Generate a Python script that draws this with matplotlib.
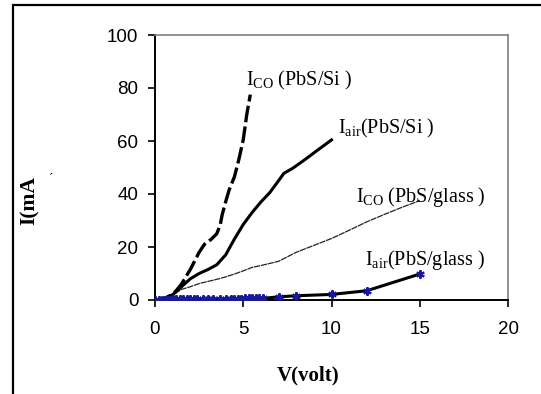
import matplotlib
matplotlib.use("Agg")
import matplotlib.pyplot as plt
from matplotlib.patches import Rectangle

plt.rcParams["mathtext.fontset"] = "custom"
plt.rcParams["mathtext.rm"] = "Liberation Serif"
plt.rcParams["mathtext.it"] = "Liberation Serif:italic"
plt.rcParams["mathtext.bf"] = "Liberation Serif:bold"

# I_CO (PbS/Si) -- dashed
v_co_si = [0, 0.3, 0.6, 0.9, 1.2, 1.5, 2.0, 2.5, 2.8, 3.2, 3.5, 3.7, 3.8, 4.0,
           4.2, 4.5, 4.75, 5.0, 5.2, 5.4]
i_co_si = [0, 0.3, 0.8, 1.8, 3.5, 6.0, 11.5, 18, 21, 23, 25, 28.5, 32, 37,
           41.5, 46.5, 53, 60.5, 70, 77.5]

# I_air (PbS/Si)
v_air_si = [0, 0.5, 1.0, 1.5, 2.0, 2.5, 3.0, 3.5, 4.0, 4.5, 5.0, 5.5, 6.0, 6.5,
            7.0, 7.3, 7.8, 8.5, 9.2, 10]
i_air_si = [0, 0.5, 2.0, 5.0, 8.0, 10.0, 11.5, 13.3, 17, 23, 28.5, 33, 37, 40.5,
            45, 47.8, 49.7, 53, 56.5, 60.4]

# I_CO (PbS/glass) -- thin
v_co_gl = [0, 0.5, 1.0, 1.5, 2.0, 2.5, 3.0, 3.5, 4.0, 4.5, 5.0, 5.5, 6.0, 6.5,
           7.0, 7.5, 8.0, 9.0, 10.0, 11.0, 12.0, 13.0, 14.0, 15.0]
i_co_gl = [0, 0.6, 1.8, 4.0, 5.0, 6.2, 7.0, 7.8, 8.7, 9.8, 11.0, 12.3, 13.0, 13.8,
           14.6, 16.3, 18.0, 20.6, 23.2, 26.3, 29.5, 32.3, 35.0, 37.5]

# I_air (PbS/glass) -- with star markers
v_air_gl = [0, 0.2, 0.4, 0.6, 0.8, 1.0, 1.2, 1.4, 1.6, 1.8, 2.0, 2.2, 2.4, 2.7,
            3.0, 3.3, 3.7, 4.0, 4.3, 4.5, 4.7, 4.9, 5.1, 5.3, 5.5, 5.7, 5.9, 6.1,
            7.0, 8.0, 10.0, 12.0, 15.0]
i_air_gl = [0, 0.1, 0.1, 0.1, 0.1, 0.2, 0.2, 0.2, 0.2, 0.2, 0.2, 0.2, 0.2, 0.2,
            0.2, 0.2, 0.2, 0.3, 0.5, 0.5, 0.5, 0.5, 0.6, 0.6, 0.6, 0.6, 0.6, 0.6,
            1.2, 1.6, 2.1, 3.5, 9.8]

x_ticks = [0, 5, 10, 15, 20]
y_ticks = [0, 20, 40, 60, 80, 100]

fig = plt.figure(figsize=(5.41, 3.94), dpi=100)
ax = fig.add_axes([155 / 541, 1 - 300 / 394, (508 - 155) / 541, (300 - 35) / 394])

# outer chart border (clipped at right/bottom like the reference)
fig.add_artist(Rectangle((13 / 541, -0.2), 1.2, 1.2 - 5 / 394,
                         transform=fig.transFigure, fill=False, lw=1.6,
                         edgecolor="black"))

ax.plot(v_co_gl, i_co_gl, color="#222222", lw=0.9, ls=(0, (5, 0.6)), zorder=2)
ax.plot(v_air_si, i_air_si, color="black", lw=2.2, zorder=3)
ax.plot(v_co_si, i_co_si, color="black", lw=2.4, ls=(0, (5, 1.3)), zorder=3)
ax.plot(v_air_gl, i_air_gl, color="black", lw=2.2, zorder=3)
ax.plot(v_air_gl, i_air_gl, ls="none", marker=(6, 2, 0), ms=6, mew=1.5,
        color="#1a1a99", zorder=4)

ax.set_xlim(0, 20)
ax.set_ylim(0, 100)
ax.set_xticks(x_ticks)
ax.set_yticks(y_ticks)
ax.tick_params(direction="out", length=5, width=1.2, color="black",
               labelsize=13.5, top=False, right=False)
ax.tick_params(axis="y", pad=7)
ax.tick_params(axis="x", pad=10)
for lab in ax.get_xticklabels() + ax.get_yticklabels():
    lab.set_fontfamily("Liberation Sans")

for s in ["top", "right"]:
    ax.spines[s].set_color("#808080")
    ax.spines[s].set_linewidth(1.2)
for s in ["left", "bottom"]:
    ax.spines[s].set_color("black")
    ax.spines[s].set_linewidth(1.4)

fig.text(308 / 541, 1 - 375 / 394, "V(volt)", ha="center", va="center",
         family="Liberation Serif", weight="bold", fontsize=15)
fig.text(30 / 541, 1 - 201 / 394, "I(mA", ha="center", va="center",
         rotation=90, family="Liberation Serif", weight="bold", fontsize=15.5)
fig.text(51 / 541, 1 - 179 / 394, "´", ha="center", va="center",
         family="Liberation Serif", fontsize=9)

lab_kw = dict(family="Liberation Serif", fontsize=14.5, ha="left", va="center")
fig.text(246 / 541, 1 - 80 / 394, r"$\mathrm{I_{CO}}$ (PbS/Si )", **lab_kw)
fig.text(338 / 541, 1 - 128 / 394, r"$\mathrm{I_{air}}$(PbS/Si )", **lab_kw)
fig.text(356 / 541, 1 - 197 / 394, r"$\mathrm{I_{CO}}$ (PbS/glass )", **lab_kw)
fig.text(365 / 541, 1 - 260 / 394, r"$\mathrm{I_{air}}$(PbS/glass )", **lab_kw)

fig.savefig("out.png", dpi=100)
